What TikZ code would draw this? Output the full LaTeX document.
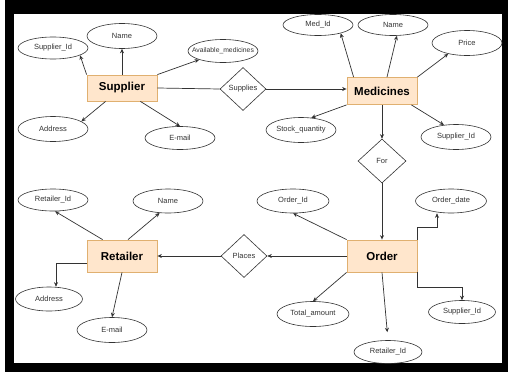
\documentclass[tikz,border=0pt]{standalone}
\usepackage{fontspec}
\setmainfont{Liberation Sans}
\usetikzlibrary{shapes.geometric,arrows.meta}
\definecolor{entfill}{HTML}{FFE6CC}
\definecolor{entline}{HTML}{E0B070}
\definecolor{lnk}{HTML}{333333}

\begin{document}
\begin{tikzpicture}[x=1pt,y=-1pt,
  entity/.style={draw=entline,fill=entfill,line width=0.8pt,minimum width=70pt,inner sep=0pt,font=\fontsize{11.5}{12}\selectfont\bfseries},
  attr/.style={draw=lnk,ellipse,line width=0.6pt,inner xsep=-10pt,inner ysep=0pt,minimum width=70pt,minimum height=23pt,font=\fontsize{7.5}{8}\selectfont,text=black!80},
  rel/.style={draw=lnk,diamond,line width=0.6pt,inner sep=0pt,minimum width=46pt,minimum height=43pt,font=\fontsize{7.5}{8}\selectfont,text=black!80},
  link/.style={draw=lnk,line width=0.7pt,-{Stealth[length=4.5pt,width=4pt]}},
  plain/.style={draw=lnk,line width=0.7pt}]
\useasboundingbox (0,0) rectangle (508,372);
\fill[white] (0,0) rectangle (508,372);
\fill[black] (5,0) rectangle (508,372);
\fill[white] (14,14) rectangle (502,363);
%\draw[help lines] (0,0) grid (508,372);

\node[entity,minimum height=26pt] (supplier) at (122,88) {Supplier};
\node[entity,minimum height=27pt] (medicines) at (382,91) {Medicines};
\node[entity,minimum height=32pt] (retailer) at (122,256) {Retailer};
\node[entity,minimum height=32pt] (order) at (382,256) {Order};

\node[rel] (supplies) at (243,89) {Supplies};
\node[rel,minimum width=48pt,minimum height=44pt] (forrel) at (382,161) {For};
\node[rel] (places) at (244,256) {Places};

\node[attr,minimum height=22pt] (supId) at (53,48) {Supplier\_Id};
\node[attr,minimum height=25pt] (supName) at (122,36) {Name};
\node[attr,font=\fontsize{6.8}{8}\selectfont] (supMeds) at (223,51) {Available\_medicines};
\node[attr,minimum height=25pt] (supAddr) at (53,129) {Address};
\node[attr] (supMail) at (180,138) {E-mail};

\node[attr,minimum height=21pt] (medId) at (318,25) {Med\_Id};
\node[attr,minimum height=21pt] (medName) at (393,25) {Name};
\node[attr,minimum height=25pt] (medPrice) at (467,43) {Price};
\node[attr,minimum height=25pt] (medStock) at (301,130) {Stock\_quantity};
\node[attr,minimum height=25pt] (medSupId) at (456,137) {Supplier\_Id};

\node[attr,minimum width=72pt,minimum height=24pt] (ordId) at (293,201) {Order\_Id};
\node[attr,minimum width=71pt,minimum height=24pt] (ordDate) at (451,201) {Order\_date};
\node[attr,minimum width=72pt,minimum height=25pt] (ordTotal) at (313,314) {Total\_amount};
\node[attr,minimum width=67pt] (ordSupId) at (462,312) {Supplier\_Id};
\node[attr,minimum width=68pt] (ordRetId) at (388,352) {Retailer\_Id};

\node[attr,minimum height=22pt] (retId) at (53,200) {Retailer\_Id};
\node[attr,minimum height=24pt] (retName) at (168,201) {Name};
\node[attr,minimum width=67pt,minimum height=24pt] (retAddr) at (49,299) {Address};
\node[attr,minimum height=25pt] (retMail) at (112,330) {E-mail};

\draw[link] (supplier.north west) -- (supId.-15);
\draw[link] (supplier.north) -- (supName.south);
\draw[link] (supplier.north east) -- (supMeds.200);
\draw[plain] (supplier.east) -- (supplies.west);
\draw[link] ([xshift=19pt]supplier.south west) -- (supAddr.15);
\draw[link] ([xshift=-17pt]supplier.south east) -- (supMail.north);
\draw[link] (supplies.east) -- (supplies.east -| medicines.west);

\draw[link] ([xshift=7pt]medicines.north west) -- (medId.-20);
\draw[link] ([xshift=5pt]medicines.north) -- (medName.-70);
\draw[link] (medicines.north east) -- (medPrice.210);
\draw[link] (medicines.south west) -- (medStock.50);
\draw[link] ([xshift=-6pt]medicines.south east) -- (medSupId.135);
\draw[link] (medicines.south) -- (forrel.north);
\draw[link] (forrel.south) -- (order.north);

\draw[link] (order.north west) -- (ordId.south);
\draw[link] (order.north east) -- ++(0,-12) -| ([xshift=-14pt]ordDate.south);
\draw[link] (order.south east) -- ++(0,15) -| (ordSupId.north);
\draw[link] (order.west) -- (places.east);
\draw[link] (order.south west) -- (ordTotal.north);
\draw[link,shorten >=8pt] (order.south) -- (ordRetId.north);

\draw[link] (places.west) -- (retailer.east);
\draw[link] ([xshift=16pt]retailer.north west) -- (retId.-80);
\draw[link] ([xshift=6pt]retailer.north) -- (retName.235);
\draw[link] ([yshift=-7pt]retailer.west) -| ([xshift=7pt]retAddr.north);
\draw[link] (retailer.south) -- (retMail.north);
\end{tikzpicture}
\end{document}
